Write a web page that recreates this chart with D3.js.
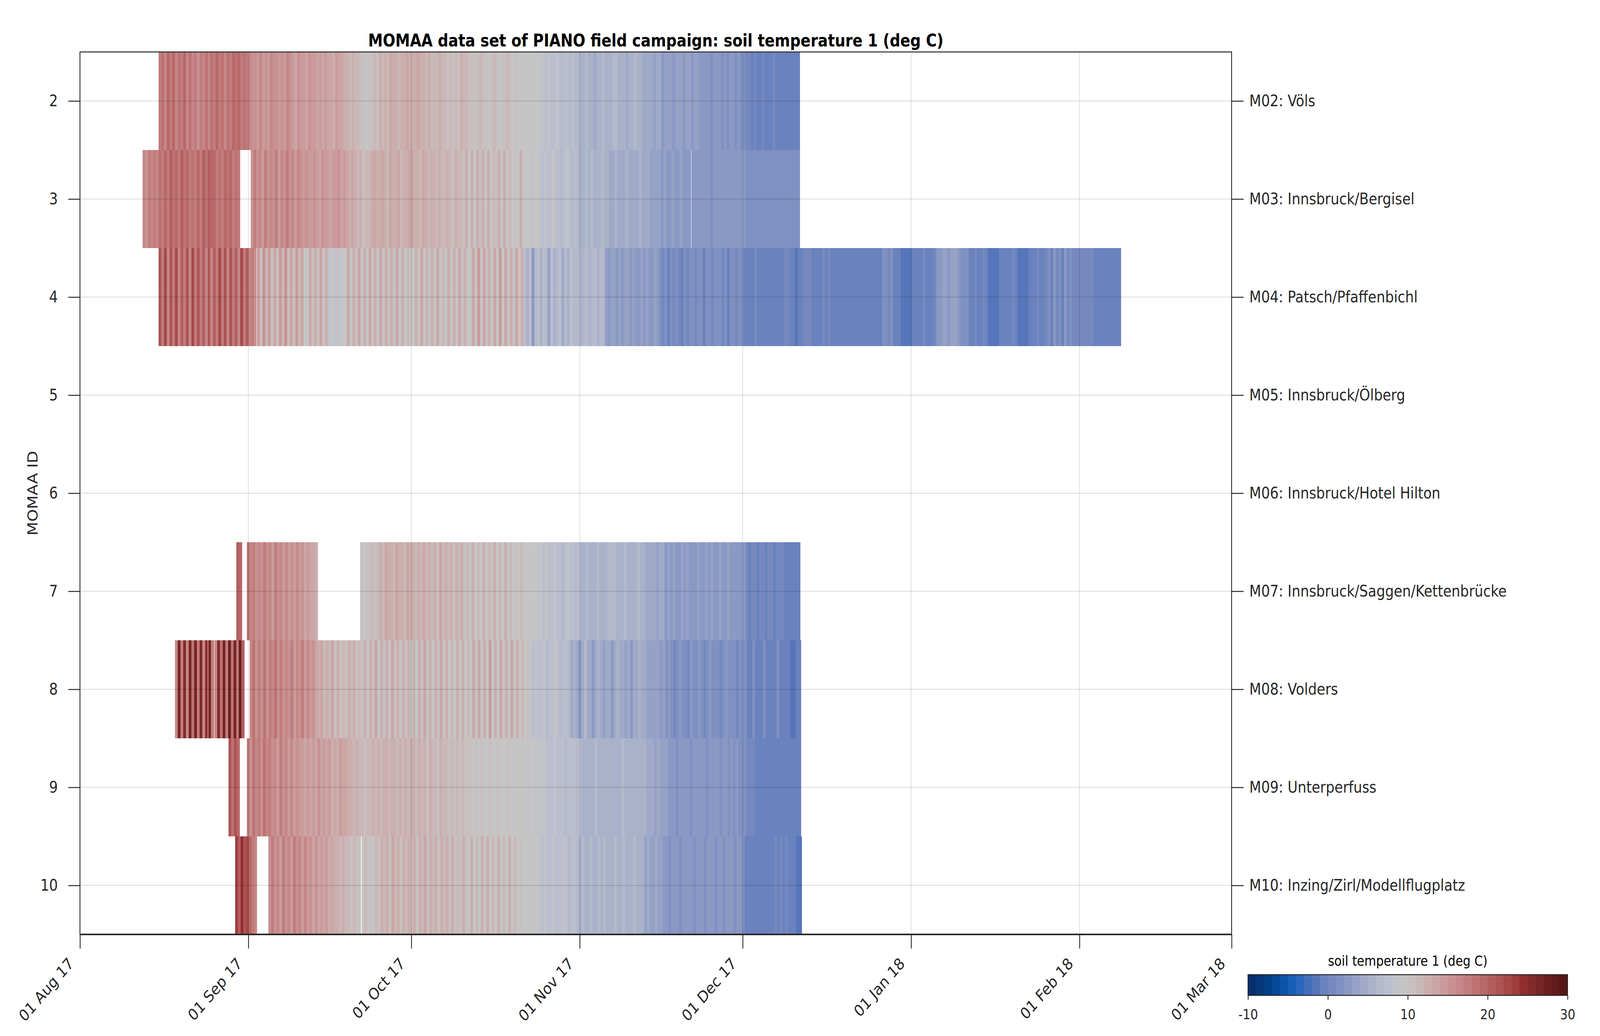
<!DOCTYPE html>
<html><head><meta charset="utf-8">
<script src="https://cdn.jsdelivr.net/npm/d3@7"></script>
<style>html,body{margin:0;padding:0;background:#fff;overflow:hidden;width:100%;height:100%;} svg{display:block;width:100vw;height:100vh;font-family:"DejaVu Sans",sans-serif;}</style>
</head><body><svg id="chart" viewBox="0 0 4782 2652" preserveAspectRatio="none"></svg>
<script>
// ---------- data ----------
const stationIds = [2,3,4,5,6,7,8,9,10];
const stationNames = ["M02: Völs","M03: Innsbruck/Bergisel","M04: Patsch/Pfaffenbichl","M05: Innsbruck/Ölberg","M06: Innsbruck/Hotel Hilton","M07: Innsbruck/Saggen/Kettenbrücke","M08: Volders","M09: Unterperfuss","M10: Inzing/Zirl/Modellflugplatz"];
const monthTicks = ["2017-08-01","2017-09-01","2017-10-01","2017-11-01","2017-12-01","2018-01-01","2018-02-01","2018-03-01"];
const colorTicks = [-10,0,10,20,30];
const palette = ["#062f6e","#05367a","#043f86","#034995","#0b55a8","#175eb6","#2c67bb","#436fba","#5775ba","#6a82bd","#7589c0","#7f91c2","#8a99c4","#94a2c6","#9faac8","#aab2ca","#b4b9cb","#bbbecc","#c1c3cb","#c5c5c5","#c8c0c0","#cab8b8","#cbaeae","#cca5a5","#cb9b9b","#c99191","#c58787","#c17c7c","#bd7272","#b86868","#b35e5e","#ad5454","#a64848","#9f3c3c","#902f30","#822a2a","#772525","#6a1f1f","#611b1b","#571616"];

// soil temperature 1 (deg C), 12-hourly values; each segment = [start (UTC), values]
const tempM02 = [
 ["2017-08-15T12:00",[17,18,16,19,17,19,16,18,17,19,16,18,16,17,15,17,16,18,16,18,17,19,17,18,16,18,17,19,18,19,17,18,17,
  16,15,15,14,16,14,15,14,16,15,15,14,15,14,16,15,14,13,15,14,14,13,15,14,14,13,14,13,
  14,13,13,12,14,13,13,12,12,11,12,11,11,10,10,9,10,10,11,10,12,11,12,11,13,12,12,11,12,12,13,12,
  12,12,13,12,12,11,12,11,11,11,12,11,11,10,11,10,11,10,12,11,11,10,10,10,
  10,11,10,10,9,10,11,10,9,10,10,11,10,9,10,9,9,
  9,9,9,9,9,9,8,
  8,7,8,7,7,8,7,6,7,7,6,7,6,6,
  5,5,6,5,5,4,5,5,6,5,5,5,6,6,5,5,5,4,5,5,6,5,5,4,
  4,4,4,3,4,4,2,
  3,3,3,2,3,3,3,2,3,3,2,3,3,2,2,
  2,2,1,2,2,2,1,2,1,2,2,1,2,1,1,
  0,0,-1,0,-1,-1,0,-1,-1,-1,0,-1,-1,-1,-1,-1,-1,-1,-1,-1]]
];
const tempM03 = [
 ["2017-08-12T12:00",[16,15,17,16,17,16,18,17,19,17,20,18,19,17,20,18,19,17,18,17,19,17,20,18,20,19,19,17,18,17,19,18,19,17,18,17]],
 ["2017-09-01T10:00",[15,17,15,16,14,17,15,16,15,17,14,16,15,17,15,16,14,16,15,
  14,15,14,14,15,14,13,15,14,14,13,14,14,15,13,14,
  13,12,13,12,11,12,10,11,11,12,13,12,12,13,12,11,13,12,12,13,11,12,12,13,
  13,12,12,11,13,12,11,12,12,11,12,11,11,12,11,10,12,11,11,10,12,
  9,12,9,12,10,12,9,12,9,11,10,12,9,12,9,11,9,10,9,12,
  9,9,9,8,9,9,8,
  7,8,7,7,9,7,7,6,7,8,7,6,7,6,
  5,5,6,5,6,5,5,5,6,5,5,
  4,4,5,4,4,4,5,4,4,4,4,5,4,4,4,
  3,3,3,3,2,3,
  2,2,3,2,2,3,2,2,2]],
 ["2017-11-21T13:00",[2,2,2,2,2,2,2,1,2,2,2,2,2,2,2,2,2,2,2,2,1,1,1,1,1,1,1,1,1,1,1,1,1,1,1,1,1,1,1,1]]
];
const tempM04 = [
 ["2017-08-15T12:00",[21,17,22,16,21,17,22,16,20,17,21,16,22,17,21,17,20,16,21,16,20,17,22,17,21,16,21,17,20,16,22,17,20,16,17,15]],
 ["2017-09-02T15:00",[14,10,15,11,14,10,13,10,14,11,15,10,13,10,14,11,13,
  9,9,
  13,10,12,10,13,9,12,
  8,9,8,10,8,9,
  9,13,9,12,10,13,9,12,9,13,10,12,9,13,9,12,10,12,9,13,9,12,9,11,9,
  9,12,9,13,9,12,9,12,9,13,9,11,9,12,9,12,9,13,9,12,9,
  9,13,9,14,9,13,9,12,9,13,9,14,9,13,9,12,8,13,9,12,
  7,5,7,2,6,7,5,7,6,3,7,5,6,7,4,6,5,7,6,
  6,6,5,6,6,5,6,6,5,6,6,
  3,2,3,3,2,3,2,3,3,2,3,2,2,3,2,3,2,2,3,2,
  1,0,1,-1,1,0,1,0,-1,1,0,
  1,1,0,1,1,-1,1,1,0,1,1,1,0,1,-1,1,1,0,1,1,
  -1,-1,-1,-1,0,-1,-1,-1,-1,-1,-1,-1,-1,-1,-1,0,0,-1,-1,-2,-1,-1,
  0,0,0,
  -1,-1,-1,-1,
  0,-1,0,
  -1,-1,-1,-1,-1,-1,-1,-1,-1,-1,-1,-1,-1,-1,-1,-1,-1,-1,-1,
  1,1,0,1,
  -1,-1,-1,
  -2,-2,-2,-2,
  -1,-1,-1,-1,0,-1,-1,-1,0,
  2,2,
  3,3,2,3,3,3,2,
  1,1,1,
  -1,-1,0,-1,-1,0,-1,
  -2,-2,-2,-2,
  -1,-1,-1,-1,-1,0,-1,
  -2,-2,-2,-2,
  -1,-1,-1,0,-1,-1,
  0,1,-1,2,0,1,-1,2,0,1,0,0,
  0,0,0,0,0,0,
  -1,-1,-1,-1,-1,-1,-1,-1,-1,-1]]
];
const tempM05 = [];
const tempM06 = [];
const tempM07 = [
 ["2017-08-29T19:00",[20,19]],
 ["2017-08-31T18:00",[18,16,17,15,16,15,17,15,16,14,17,15,16,14,16,14,15,14,16,14,15,13,14,13,13,12]],
 ["2017-09-21T14:00",[10,9,10,10,11,10,11,
  12,11,13,12,12,11,13,12,12,11,13,12,
  12,11,12,11,13,11,12,11,12,10,13,11,12,11,12,10,12,11,12,10,11,
  9,12,9,11,9,12,9,11,10,12,9,11,9,12,9,11,9,10,9,11,
  9,9,9,9,9,8,9,
  7,8,7,7,8,7,7,6,7,8,7,7,6,7,
  5,5,6,5,5,5,6,5,5,5,6,6,6,5,5,5,6,5,5,5,5,6,5,5,
  4,4,4,4,3,4,4,
  2,3,2,3,2,2,3,2,3,2,2,2,3,2,2,
  3,2,3,2,2,3,2,2,3,2,2,2,2,2,2,
  0,-1,0,0,-1,0,0,-1,0,0,-1,0,0,0,-1,-1,-1,-1,-1,-1]]
];
const tempM08 = [
 ["2017-08-18T12:00",[16,26,17,25,16,26,18,26,17,25,16,24]],
 ["2017-08-24T15:00",[26,17]],
 ["2017-08-25T18:00",[16,25,18,26,17,27,18,26,17,27,20]],
 ["2017-09-01T06:00",[16,18,15,17,15,18,15,17,16,18,15,17,15,16,15,17,14,16,15,17,14,16,14,15,13,
  12,13,11,12,11,13,10,12,10,11,10,12,11,12,10,11,
  10,12,9,12,10,13,9,12,10,12,9,13,10,12,9,12,10,12,9,
  12,9,12,10,13,9,12,9,12,10,13,9,12,9,11,9,12,9,12,9,11,
  9,13,9,13,9,12,9,14,9,12,9,13,9,12,9,13,9,12,9,11,9,10,8,
  7,8,7,7,8,6,7,7,8,7,6,7,7,6,
  4,5,4,2,4,6,4,4,2,4,5,4,3,4,4,2,4,5,4,4,3,4,2,4,4,5,4,4,
  3,3,3,3,3,2,3,
  1,2,1,0,1,2,1,1,0,2,1,1,2,1,0,1,2,1,1,1,0,1,2,1,1,1,0,1,1,1,
  -1,-1,1,-1,-1,-1,1,-1,-1,-1,-1,1,-1,-1,-1,-1,-2,-2,-1,-1]]
];
const tempM09 = [
 ["2017-08-28T09:00",[21,18,21,19]],
 ["2017-08-31T17:00",[17,15,18,16,17,15,18,16,17,15,16,14,17,15,16,14,16,14,15,14,
  14,13,14,13,14,13,15,13,14,13,14,12,13,12,14,13,13,12,
  12,11,12,11,11,10,11,11,12,11,12,11,12,12,11,12,12,11,12,11,12,11,12,
  12,11,12,11,12,10,12,11,11,10,12,11,11,10,11,10,11,10,11,10,10,
  10,9,10,9,10,9,9,10,9,9,10,9,9,9,10,9,9,9,9,9,9,8,9,9,8,9,8,
  8,7,7,7,8,7,7,7,6,7,7,7,6,7,
  5,5,5,5,5,6,5,5,5,5,5,5,5,5,5,6,5,5,5,5,5,5,5,5,
  4,4,4,3,4,3,3,3,
  2,2,2,1,2,2,2,2,1,2,2,2,2,2,1,2,2,2,2,1,2,2,1,2,1,2,1,1,1,
  0,0,0,
  -1,-1,-1,-1,-1,-1,-1,-1,-1,-1,-1,-1,-1,-1,-1,-1,-1]]
];
const tempM10 = [
 ["2017-08-29T14:00",[23,20,24,21,22,19,17,16]],
 ["2017-09-04T17:00",[15,17,15,16,14,17,15,16,14,17,15,16,14,16,14,15,13,15,13,14,13,14,12,13,12,12,11,12,11,11,10,11,10,10]],
 ["2017-09-21T20:00",[9,11,9,10,9,11,
  10,12,11,12,10,13,11,12,10,12,11,12,
  11,12,10,12,11,13,10,12,11,12,10,12,11,12,10,12,10,11,10,12,10,
  9,12,9,11,9,12,9,12,9,11,9,12,9,11,9,12,9,11,9,10,
  9,9,9,9,9,9,8,
  7,8,7,7,8,7,7,7,8,7,6,7,7,6,
  5,6,5,5,6,5,5,6,5,6,5,5,5,6,5,5,6,5,5,5,6,5,5,5,
  3,4,3,3,4,3,3,
  2,2,1,2,2,2,1,2,2,2,2,1,2,2,2,1,2,2,2,1,2,2,1,2,2,2,1,2,2,1,
  -1,-1,-1,-1,-1,-1,-1,-1,-1,-1,-1,0,-1,0,-1,0,-1,-1,-1,-2,-2]]
];
const series = [
 {id:2, segs:tempM02},{id:3, segs:tempM03},{id:4, segs:tempM04},{id:5, segs:tempM05},{id:6, segs:tempM06},
 {id:7, segs:tempM07},{id:8, segs:tempM08},{id:9, segs:tempM09},{id:10, segs:tempM10}
];

// ---------- layout ----------
const M = {left:239, right:3681, top:133, bottom:2392};
const INK = "#262626";
const svg = d3.select("#chart");
const parse = s => new Date(s + (s.length > 10 ? "Z" : "T00:00Z"));
const monthDates = monthTicks.map(parse);
const x = d3.scaleUtc().domain([monthDates[0], monthDates[monthDates.length-1]]).range([M.left, M.right]);
const y = d3.scaleLinear().domain([1.5, 10.5]).range([M.top, M.bottom]);
const color = d3.scaleQuantize().domain([colorTicks[0], colorTicks[colorTicks.length-1]]).range(palette);
const HALF = 12*3600*1000;

const cells = [];
series.forEach(s => s.segs.forEach(([start, vals]) => {
  const t0 = parse(start).getTime();
  vals.forEach((v,i) => cells.push({id:s.id, t:t0 + i*HALF, v}));
}));

svg.append("rect").attr("width", 4782).attr("height", 2652).attr("fill", "#fff");

svg.append("g").selectAll("rect").data(cells).join("rect")
  .attr("x", d => x(d.t))
  .attr("width", d => x(d.t + HALF) - x(d.t) + 0.6)
  .attr("y", d => y(d.id - 0.5))
  .attr("height", d => y(d.id + 0.5) - y(d.id - 0.5))
  .attr("fill", d => color(d.v))
  .attr("shape-rendering", "crispEdges");

// grid (drawn on top, translucent)
const grid = svg.append("g").attr("stroke", "#000").attr("stroke-opacity", 0.12).attr("stroke-width", 2.5);
grid.selectAll(".gx").data(monthDates).join("line").attr("class","gx")
  .attr("x1", d => x(d)).attr("x2", d => x(d)).attr("y1", M.top).attr("y2", M.bottom);
grid.selectAll(".gy").data(stationIds).join("line").attr("class","gy")
  .attr("x1", M.left).attr("x2", M.right).attr("y1", d => y(d)).attr("y2", d => y(d));

// box
svg.append("rect").attr("x", M.left).attr("y", M.top).attr("width", M.right - M.left).attr("height", M.bottom - M.top)
  .attr("fill", "none").attr("stroke", INK).attr("stroke-width", 2.5);
svg.append("line").attr("x1", M.left).attr("x2", M.right).attr("y1", M.bottom).attr("y2", M.bottom)
  .attr("stroke", INK).attr("stroke-width", 4);

// x axis
const xAxis = svg.append("g").attr("transform", `translate(0,${M.bottom})`)
  .call(d3.axisBottom(x).tickValues(monthDates).tickFormat(d3.utcFormat("%d %b %y")).tickSize(36).tickSizeOuter(0));
xAxis.select(".domain").remove();
xAxis.selectAll("line").attr("stroke", INK).attr("stroke-width", 2.5);
xAxis.selectAll("text").attr("font-size", 41).attr("fill", INK).attr("font-family", "DejaVu Sans")
  .attr("text-anchor", "end").attr("x", 0).attr("y", 0).attr("dy", 0)
  .attr("transform", "translate(-17,77) rotate(-45)");

// left y axis
const yAxisL = svg.append("g").attr("transform", `translate(${M.left},0)`)
  .call(d3.axisLeft(y).tickValues(stationIds).tickSize(35).tickPadding(31).tickSizeOuter(0));
yAxisL.select(".domain").remove();
yAxisL.selectAll("line").attr("stroke", INK).attr("stroke-width", 2.5);
yAxisL.selectAll("text").attr("font-size", 41).attr("fill", INK).attr("font-family", "DejaVu Sans");

// right y axis
const yAxisR = svg.append("g").attr("transform", `translate(${M.right},0)`)
  .call(d3.axisRight(y).tickValues(stationIds).tickFormat((d,i) => stationNames[i]).tickSize(36).tickPadding(17).tickSizeOuter(0));
yAxisR.select(".domain").remove();
yAxisR.selectAll("line").attr("stroke", INK).attr("stroke-width", 2.5);
yAxisR.selectAll("text").attr("font-size", 41).attr("fill", INK).attr("font-family", "DejaVu Sans");

// y label
svg.append("text").attr("transform", `translate(112,${(M.top + M.bottom)/2}) rotate(-90)`)
  .attr("text-anchor", "middle").attr("font-size", 41).attr("fill", INK).text("MOMAA ID");

// title
svg.append("text").attr("x", (M.left + M.right)/2).attr("y", 119).attr("text-anchor", "middle")
  .attr("font-size", 44).attr("font-weight", "bold").attr("fill", "#000")
  .text("MOMAA data set of PIANO field campaign: soil temperature 1 (deg C)");

// colorbar
const CB = {left:3730, right:4685, top:2495, bottom:2548};
const cx = d3.scaleLinear().domain([colorTicks[0], colorTicks[colorTicks.length-1]]).range([CB.left, CB.right]);
const step = (colorTicks[colorTicks.length-1] - colorTicks[0]) / palette.length;
svg.append("g").selectAll("rect").data(palette).join("rect")
  .attr("x", (c,i) => cx(colorTicks[0] + i*step))
  .attr("width", (c,i) => cx(colorTicks[0] + (i+1)*step) - cx(colorTicks[0] + i*step) + 0.5)
  .attr("y", CB.top).attr("height", CB.bottom - CB.top)
  .attr("fill", c => c).attr("shape-rendering", "crispEdges");
svg.append("rect").attr("x", CB.left).attr("y", CB.top).attr("width", CB.right - CB.left).attr("height", CB.bottom - CB.top)
  .attr("fill", "none").attr("stroke", INK).attr("stroke-width", 2.5);
const cAxis = svg.append("g").attr("transform", `translate(0,${CB.bottom})`)
  .call(d3.axisBottom(cx).tickValues(colorTicks).tickFormat(d => String(d)).tickSize(11).tickPadding(24).tickSizeOuter(0));
cAxis.select(".domain").remove();
cAxis.selectAll("line").attr("stroke", INK).attr("stroke-width", 2.5);
cAxis.selectAll("text").attr("font-size", 36).attr("fill", INK).attr("font-family", "DejaVu Sans");
svg.append("text").attr("x", (CB.left + CB.right)/2).attr("y", 2472).attr("text-anchor", "middle")
  .attr("font-size", 36).attr("fill", "#000").text("soil temperature 1 (deg C)");
</script>
</body></html>
